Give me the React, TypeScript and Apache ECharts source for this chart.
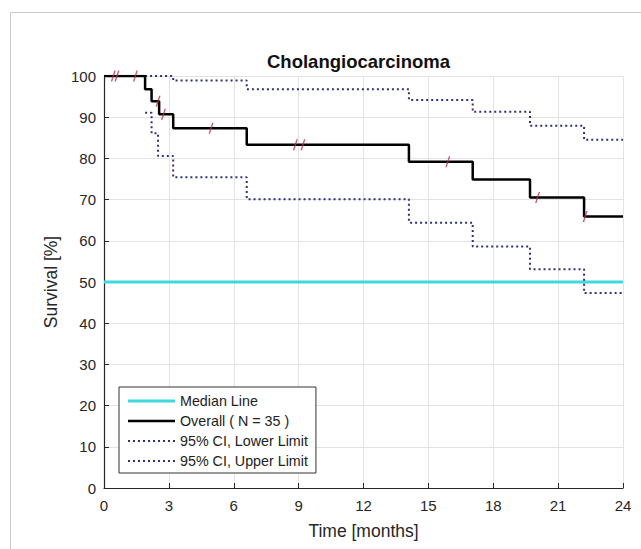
import React, { useEffect, useRef } from "react";
import * as echarts from "echarts";

const overallTime = [0, 1.9, 2.2, 2.55, 3.2, 6.6, 14.1, 17.05, 19.7, 22.2, 24];
const overallValue = [100, 96.8, 93.9, 90.7, 87.3, 83.3, 79.2, 74.9, 70.5, 65.9, 65.9];

const lowerTime = [1.9, 2.2, 2.5, 3.2, 6.6, 14.1, 17.05, 19.7, 22.2, 24];
const lowerValue = [91.1, 86.1, 80.6, 75.4, 70.1, 64.4, 58.6, 53.1, 47.3, 47.3];

const upperTime = [1.9, 3.2, 6.6, 14.1, 17.05, 19.7, 22.2, 24];
const upperValue = [100, 98.9, 96.8, 94.2, 91.3, 87.9, 84.5, 84.5];

const censorTime = [0.43, 0.6, 1.45, 2.5, 2.75, 4.95, 8.85, 9.2, 15.9, 20.05, 22.25];
const censorValue = [100, 100, 100, 93.9, 90.7, 87.3, 83.3, 83.3, 79.2, 70.5, 65.9];

const medianTime = [0, 24];
const medianValue = [50, 50];

const xTicks = [0, 3, 6, 9, 12, 15, 18, 21, 24];
const legendNames = [
  "Median Line",
  "Overall ( N = 35 )",
  "95% CI, Lower Limit",
  "95% CI, Upper Limit",
];

const zip = (a: number[], b: number[]) => a.map((v, i) => [v, b[i]]);

const FONT = "'Liberation Sans', Arial, Helvetica, sans-serif";
const DOT = "#2e3175";

const solidIcon = (h: number) => `path://M0,0h47v${h}h-47z`;
const dottedIcon =
  "path://" +
  Array.from({ length: 10 }, (_, i) => `M${i * 5},0h2v2h-2z`).join(" ");

export default function App() {
  const ref = useRef<HTMLDivElement>(null);
  useEffect(() => {
    if (!ref.current) return;
    const chart = echarts.init(ref.current, undefined, { renderer: "svg" });
    chart.setOption({
      animation: false,
      backgroundColor: "#ffffff",
      textStyle: { fontFamily: FONT },
      title: {
        text: "Cholangiocarcinoma",
        left: 262,
        top: 47,
        textStyle: { fontFamily: FONT, fontSize: 18.5, fontWeight: "bold", color: "#111" },
      },
      graphic: [
        {
          type: "rect",
          shape: { x: 10.5, y: 12.5, width: 700, height: 700 },
          style: { fill: "none", stroke: "#c9c9c9", lineWidth: 1 },
          silent: true,
          z: -10,
        },
      ],
      grid: { left: 104, right: 18, top: 76, bottom: 61 },
      legend: {
        data: [
          { name: legendNames[0], icon: solidIcon(3) },
          { name: legendNames[1], icon: solidIcon(2.5) },
          { name: legendNames[2], icon: dottedIcon },
          { name: legendNames[3], icon: dottedIcon },
        ],
        orient: "vertical",
        left: 119,
        top: 387,
        backgroundColor: "#ffffff",
        borderColor: "#333",
        borderWidth: 1,
        borderRadius: 0,
        padding: [7, 8, 5, 9],
        itemWidth: 47,
        itemHeight: 14,
        itemGap: 6,
        textStyle: { fontFamily: FONT, fontSize: 14.3, color: "#222" },
        z: 20,
      },
      xAxis: {
        type: "value",
        min: 0,
        max: 24,
        interval: 3,
        name: "Time [months]",
        nameLocation: "middle",
        nameGap: 34,
        nameTextStyle: { fontFamily: FONT, fontSize: 17.5, color: "#262626" },
        axisLine: { lineStyle: { color: "#262626", width: 1.2 } },
        axisTick: { inside: true, length: 5, lineStyle: { color: "#262626" } },
        axisLabel: {
          fontFamily: FONT,
          fontSize: 15,
          color: "#262626",
          margin: 10,
          formatter: (v: number) => (xTicks.includes(v) ? String(v) : ""),
        },
        splitLine: { show: true, lineStyle: { color: "#e3e3e3", width: 1 } },
      },
      yAxis: {
        type: "value",
        min: 0,
        max: 100,
        interval: 10,
        name: "Survival [%]",
        nameLocation: "middle",
        nameGap: 37,
        nameTextStyle: { fontFamily: FONT, fontSize: 17.5, color: "#262626" },
        axisLine: { show: true, lineStyle: { color: "#262626", width: 1.2 } },
        axisTick: { show: true, inside: true, length: 5, lineStyle: { color: "#262626" } },
        axisLabel: { fontFamily: FONT, fontSize: 15, color: "#262626", margin: 8 },
        splitLine: { show: true, lineStyle: { color: "#e3e3e3", width: 1 } },
      },
      series: [
        {
          name: legendNames[0],
          type: "line",
          data: zip(medianTime, medianValue),
          symbol: "none",
          lineStyle: { color: "#3fd8dc", width: 3 },
          itemStyle: { color: "#3fd8dc" },
          z: 3,
        },
        {
          name: legendNames[2],
          type: "line",
          step: "end",
          data: zip(lowerTime, lowerValue),
          symbol: "none",
          lineStyle: { color: DOT, width: 2, type: [2, 3] },
          itemStyle: { color: DOT },
          z: 4,
        },
        {
          name: legendNames[3],
          type: "line",
          step: "end",
          data: zip(upperTime, upperValue),
          symbol: "none",
          lineStyle: { color: DOT, width: 2, type: [2, 3] },
          itemStyle: { color: DOT },
          z: 4,
        },
        {
          name: legendNames[1],
          type: "line",
          step: "end",
          data: zip(overallTime, overallValue),
          symbol: "none",
          lineStyle: { color: "#000000", width: 2.5 },
          itemStyle: { color: "#000000" },
          z: 5,
        },
        {
          name: "Censored",
          type: "scatter",
          data: zip(censorTime, censorValue),
          symbol: "path://M0,12 L3.4,0 L4.8,0 L1.4,12 Z",
          symbolSize: [5, 11],
          itemStyle: { color: "#b5364c" },
          z: 6,
        },
      ],
    });
    return () => chart.dispose();
  }, []);
  return (
    <div
      ref={ref}
      style={{ position: "absolute", left: 0, top: 0, width: 641, height: 549 }}
    />
  );
}
